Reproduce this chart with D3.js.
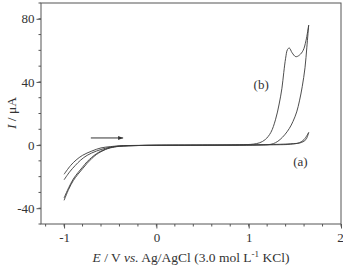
<!DOCTYPE html>
<html lang="en">
<head>
<meta charset="UTF-8">
<title>Cyclic voltammogram</title>
<style>
  body { margin: 0; background: #fff; }
  text { font-family: "Liberation Serif", "DejaVu Serif", serif; fill: #333; }
</style>
</head>
<body>
<script src="https://d3js.org/d3.v7.min.js"></script>
<div id="chart"></div>
<script>
// data: [E (V), I (uA)]
var curveAForward = [[-1, -35], [-0.95, -28], [-0.9, -22.5], [-0.85, -18.5], [-0.8, -15], [-0.75, -11.5], [-0.7, -8.5],
  [-0.65, -6], [-0.6, -4.2], [-0.55, -2.8], [-0.5, -1.8], [-0.4, -0.8], [-0.2, -0.3], [0, -0.1], [0.5, 0], [1.0, 0.1],
  [1.3, 0.2], [1.45, 0.5], [1.55, 1.5], [1.6, 3.5], [1.65, 8]];
var curveAReverse = [[1.65, 8], [1.62, 3.5], [1.57, 1.6], [1.45, 0.8], [1.2, 0.3], [0.8, 0], [0.3, -0.1], [-0.2, -0.2],
  [-0.4, -0.5], [-0.5, -1], [-0.6, -1.8], [-0.7, -3.8], [-0.8, -6.5], [-0.87, -9.5], [-0.93, -13], [-1, -18.5]];
var curveBForward = [[-1, -33.5], [-0.95, -27], [-0.9, -21.5], [-0.85, -17.5], [-0.8, -14], [-0.75, -10.5], [-0.7, -7.8],
  [-0.65, -5.5], [-0.6, -3.8], [-0.55, -2.5], [-0.5, -1.6], [-0.4, -0.7], [-0.2, -0.3], [0, -0.1], [0.5, 0], [0.9, 0.2],
  [1.05, 0.6], [1.12, 1.5], [1.18, 3.5], [1.24, 8], [1.29, 16], [1.33, 26], [1.36, 36], [1.38, 46], [1.40, 55],
  [1.42, 60.5], [1.44, 61.5], [1.47, 58.5], [1.51, 56], [1.55, 57], [1.59, 60], [1.62, 66], [1.65, 76]];
var curveBReverse = [[1.65, 76], [1.63, 62], [1.61, 49], [1.58, 37], [1.55, 28], [1.52, 21], [1.48, 15], [1.44, 10.5],
  [1.39, 6.5], [1.34, 3.5], [1.29, 1.5], [1.24, 0.5], [1.1, 0], [0.5, -0.1], [0, -0.2], [-0.3, -0.4], [-0.45, -0.9],
  [-0.55, -2], [-0.65, -3.8], [-0.75, -6.5], [-0.82, -9.5], [-0.88, -13], [-0.94, -17], [-1, -22]];
var curves = [curveAForward, curveAReverse, curveBForward, curveBReverse];

var xTicks = [-1, 0, 1, 2];
var yTicks = [-40, 0, 40, 80];
var arrowE = [-0.71, -0.36];
var arrowI = 4.5;
var curveLabels = [{ text: "(b)", e: 1.135, i: 35.5 }, { text: "(a)", e: 1.56, i: -13.2 }];

var width = 343, height = 266;
var svg = d3.select("#chart").append("svg")
  .attr("width", width)
  .attr("height", height);

var x = d3.scaleLinear().domain([-1.25, 2]).range([41, 341]);
var y = d3.scaleLinear().domain([-50, 90]).range([224, 3]);

// frame
svg.append("rect")
  .attr("x", x.range()[0]).attr("y", y.range()[1])
  .attr("width", x.range()[1] - x.range()[0])
  .attr("height", y.range()[0] - y.range()[1])
  .attr("fill", "none")
  .attr("stroke", "#555")
  .attr("stroke-width", 1);

// minor ticks
var xMinor = d3.range(-1.2, 2.001, 0.2);
var yMinor = d3.range(-50, 90.001, 10);
svg.append("g").selectAll("line").data(xMinor).enter().append("line")
  .attr("x1", function (d) { return x(d); }).attr("x2", function (d) { return x(d); })
  .attr("y1", y.range()[0]).attr("y2", y.range()[0] + 2.5)
  .attr("stroke", "#555");
svg.append("g").selectAll("line").data(yMinor).enter().append("line")
  .attr("y1", function (d) { return y(d); }).attr("y2", function (d) { return y(d); })
  .attr("x1", x.range()[0]).attr("x2", x.range()[0] - 2.5)
  .attr("stroke", "#555");

// major axes (hyphen minus as in the original)
var fmt = function (d) { return String(d); };
var xAxis = svg.append("g")
  .attr("transform", "translate(0," + y.range()[0] + ")")
  .call(d3.axisBottom(x).tickValues(xTicks).tickSize(4.5).tickPadding(4).tickFormat(fmt));
var yAxis = svg.append("g")
  .attr("transform", "translate(" + x.range()[0] + ",0)")
  .call(d3.axisLeft(y).tickValues(yTicks).tickSize(4.5).tickPadding(2).tickFormat(fmt));
[xAxis, yAxis].forEach(function (g) {
  g.select(".domain").remove();
  g.selectAll("line").attr("stroke", "#555");
  g.selectAll("text").style("font-size", "13px").style("font-family", "Liberation Serif").attr("fill", "#333");
});
xAxis.selectAll("text").filter(function (d) { return d === 2; }).attr("dx", "-1");

// curves
var line = d3.line()
  .x(function (d) { return x(d[0]); })
  .y(function (d) { return y(d[1]); })
  .curve(d3.curveCatmullRom.alpha(0.5));
svg.append("g").selectAll("path").data(curves).enter().append("path")
  .attr("d", line)
  .attr("fill", "none")
  .attr("stroke", "#3a3a3a")
  .attr("stroke-width", 0.9);

// scan direction arrow
svg.append("defs").append("marker")
  .attr("id", "head")
  .attr("viewBox", "0 0 10 10")
  .attr("refX", 10).attr("refY", 5)
  .attr("markerWidth", 7).attr("markerHeight", 5)
  .attr("orient", "auto")
  .append("path").attr("d", "M0,1 L10,5 L0,9 Z").attr("fill", "#333");
svg.append("line")
  .attr("x1", x(arrowE[0])).attr("x2", x(arrowE[1]))
  .attr("y1", y(arrowI)).attr("y2", y(arrowI))
  .attr("stroke", "#333").attr("stroke-width", 1)
  .attr("marker-end", "url(#head)");

// curve labels
svg.selectAll(".clabel").data(curveLabels).enter().append("text")
  .attr("class", "clabel")
  .attr("x", function (d) { return x(d.e); })
  .attr("y", function (d) { return y(d.i); })
  .attr("text-anchor", "middle")
  .style("font-size", "13px")
  .text(function (d) { return d.text; });

// axis titles
var xt = svg.append("text")
  .attr("x", 191).attr("y", 262)
  .attr("text-anchor", "middle")
  .style("font-size", "13.5px");
xt.append("tspan").style("font-style", "italic").text("E");
xt.append("tspan").text(" / V ");
xt.append("tspan").style("font-style", "italic").text("vs.");
xt.append("tspan").text(" Ag/AgCl (3.0 mol L");
xt.append("tspan").attr("dy", -5).style("font-size", "9px").text("-1");
xt.append("tspan").attr("dy", 5).text(" KCl)");

var yt = svg.append("text")
  .attr("transform", "translate(16,113) rotate(-90)")
  .attr("text-anchor", "middle")
  .style("font-size", "13.5px");
yt.append("tspan").style("font-style", "italic").text("I");
yt.append("tspan").text(" / μA");
</script>
</body>
</html>
